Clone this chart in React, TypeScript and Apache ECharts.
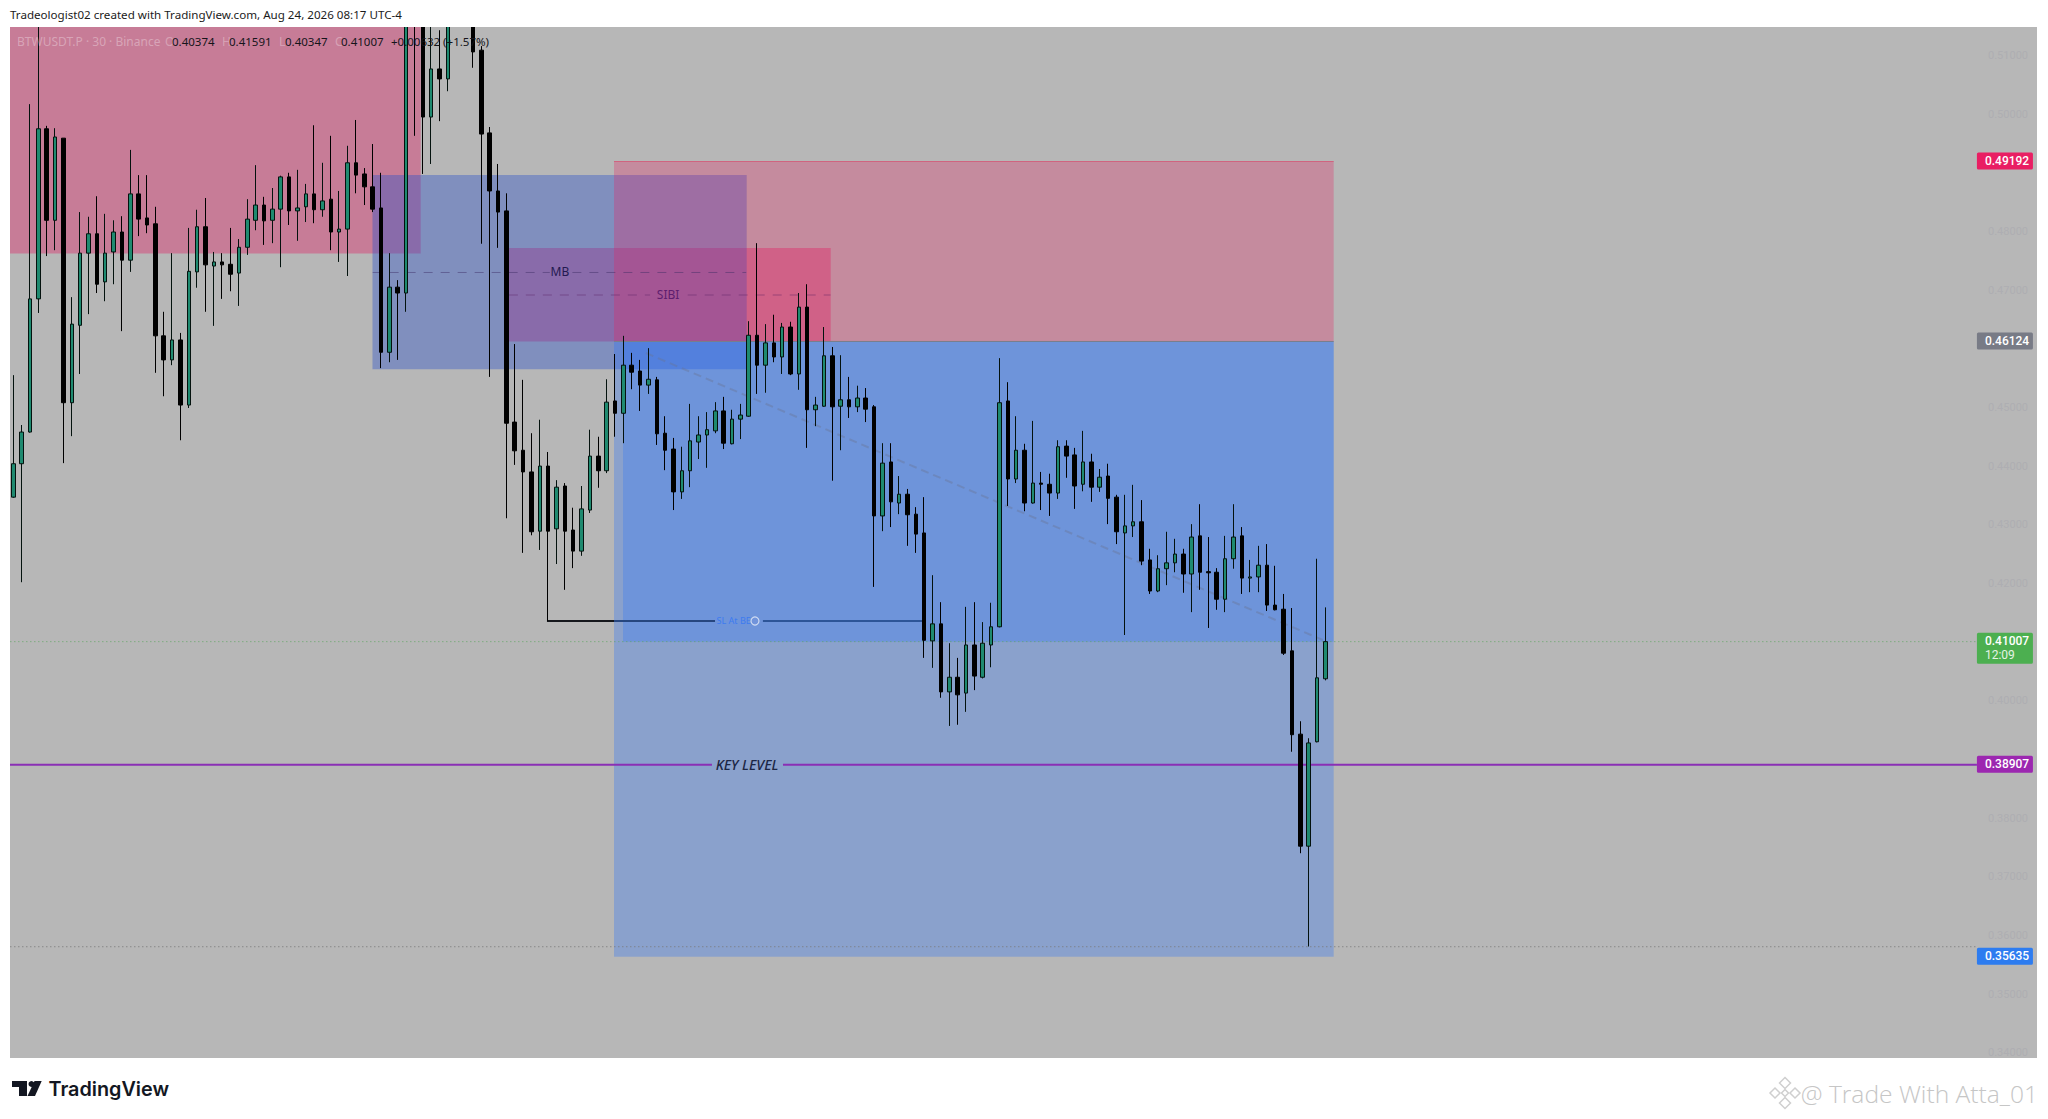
import React, { useEffect, useRef } from "react";
import * as echarts from "echarts";

const opens = [
  0.4347,0.4404,0.4458,0.4685,0.4975,0.4819,0.4959,0.4508,0.4640,0.4763,
  0.4796,0.4714,0.4765,0.4799,0.4751,0.4864,0.4823,0.4813,0.4622,0.4581,
  0.4615,0.4504,0.4731,0.4808,0.4741,0.4748,0.4744,0.4729,0.4773,0.4819,
  0.4845,0.4819,0.4838,0.4893,0.4835,0.4842,0.4864,0.4837,0.4855,0.4799,
  0.4804,0.4917,0.4898,0.4876,0.4840,0.4594,0.4705,0.4695,0.5229,0.5169,
  0.4995,0.5077,0.5060,0.5169,0.5260,0.5177,0.5109,0.4968,0.4869,0.4835,
  0.4475,0.4427,0.4390,0.4289,0.4400,0.4293,0.4366,0.4291,0.4255,0.4325,
  0.4417,0.4392,0.4511,0.4490,0.4572,0.4562,0.4538,0.4547,0.4456,0.4429,
  0.4356,0.4392,0.4441,0.4453,0.4460,0.4494,0.4438,0.4480,0.4485,0.4623,
  0.4572,0.4610,0.4586,0.4637,0.4557,0.4671,0.4496,0.4502,0.4588,0.4502,
  0.4513,0.4501,0.4516,0.4501,0.4315,0.4407,0.4337,0.4352,0.4318,0.4286,
  0.4102,0.4131,0.4015,0.4040,0.4013,0.4095,0.4040,0.4095,0.4126,0.4511,
  0.4378,0.4427,0.4337,0.4371,0.4369,0.4354,0.4434,0.4419,0.4369,0.4407,
  0.4364,0.4383,0.4347,0.4286,0.4298,0.4305,0.4240,0.4187,0.4225,0.4235,
  0.4250,0.4216,0.4281,0.4220,0.4219,0.4173,0.4242,0.4281,0.4209,0.4211,
  0.4231,0.4163,0.4156,0.4085,0.3943,0.3752,0.3930,0.40374,
];
const closes = [
  0.4404,0.4458,0.4685,0.4975,0.4819,0.4961,0.4508,0.4642,0.4763,0.4796,
  0.4710,0.4763,0.4799,0.4751,0.4864,0.4821,0.4811,0.4622,0.4581,0.4615,
  0.4504,0.4732,0.4808,0.4743,0.4748,0.4743,0.4727,0.4773,0.4821,0.4845,
  0.4818,0.4838,0.4893,0.4835,0.4840,0.4864,0.4837,0.4852,0.4799,0.4804,
  0.4917,0.4896,0.4876,0.4838,0.4594,0.4705,0.4695,0.5186,0.5195,0.4995,
  0.5077,0.5060,0.5169,0.5260,0.5220,0.5106,0.4966,0.4869,0.4833,0.4473,
  0.4426,0.4390,0.4288,0.4400,0.4289,0.4364,0.4289,0.4255,0.4327,0.4417,
  0.4392,0.4509,0.4490,0.4572,0.4560,0.4538,0.4548,0.4455,0.4427,0.4356,
  0.4392,0.4443,0.4453,0.4462,0.4494,0.4439,0.4480,0.4487,0.4623,0.4572,
  0.4610,0.4586,0.4637,0.4557,0.4671,0.4496,0.4504,0.4588,0.4501,0.4513,
  0.4501,0.4516,0.4497,0.4315,0.4405,0.4339,0.4352,0.4317,0.4284,0.4103,
  0.4131,0.4015,0.4040,0.4010,0.4095,0.4042,0.4098,0.4126,0.4508,0.4378,
  0.4427,0.4337,0.4371,0.4369,0.4354,0.4433,0.4417,0.4366,0.4407,0.4364,
  0.4381,0.4345,0.4288,0.4298,0.4305,0.4238,0.4187,0.4225,0.4235,0.4250,
  0.4216,0.4279,0.4219,0.4218,0.4173,0.4242,0.4279,0.4209,0.4211,0.4231,
  0.4163,0.4155,0.4081,0.3942,0.3752,0.3928,0.4039,0.41007,
];
const lows = [
  0.4346,0.4202,0.4457,0.4661,0.4758,0.4768,0.4405,0.4451,0.4557,0.4659,
  0.4695,0.4681,0.4710,0.4630,0.4731,0.4792,0.4797,0.4559,0.4519,0.4572,
  0.4444,0.4499,0.4704,0.4663,0.4639,0.4685,0.4698,0.4673,0.4760,0.4802,
  0.4777,0.4780,0.4739,0.4811,0.4784,0.4816,0.4814,0.4825,0.4768,0.4748,
  0.4724,0.4865,0.4845,0.4833,0.4567,0.4577,0.4581,0.4663,0.4963,0.4898,
  0.4915,0.4988,0.5039,0.5165,0.5190,0.5079,0.4779,0.4552,0.4772,0.4311,
  0.4402,0.4252,0.4282,0.4257,0.4136,0.4233,0.4189,0.4226,0.4247,0.4320,
  0.4363,0.4388,0.4450,0.4439,0.4531,0.4494,0.4523,0.4436,0.4393,0.4325,
  0.4344,0.4364,0.4412,0.4397,0.4456,0.4429,0.4437,0.4446,0.4484,0.4523,
  0.4525,0.4577,0.4557,0.4555,0.4530,0.4431,0.4468,0.4501,0.4375,0.4427,
  0.4482,0.4492,0.4475,0.4194,0.4289,0.4296,0.4318,0.4264,0.4252,0.4073,
  0.4056,0.4005,0.3957,0.3959,0.3981,0.4018,0.4038,0.4057,0.4125,0.4332,
  0.4371,0.4323,0.4336,0.4325,0.4315,0.4344,0.4380,0.4327,0.4357,0.4339,
  0.4356,0.4301,0.4267,0.4112,0.4279,0.4231,0.4182,0.4185,0.4197,0.4219,
  0.4184,0.4151,0.4189,0.4124,0.4155,0.4151,0.4225,0.4182,0.4185,0.4185,
  0.4153,0.4154,0.4078,0.3913,0.3740,0.3581,0.3929,0.40347,
];
const highs = [
  0.4555,0.4470,0.5017,0.5160,0.4980,0.4976,0.4959,0.4688,0.4833,0.4825,
  0.4860,0.4830,0.4819,0.4826,0.4939,0.4896,0.4896,0.4842,0.4663,0.4763,
  0.4627,0.4806,0.4837,0.4857,0.4765,0.4763,0.4806,0.4787,0.4855,0.4913,
  0.4859,0.4874,0.4895,0.4900,0.4905,0.4881,0.4981,0.4917,0.4963,0.4869,
  0.4946,0.4990,0.4908,0.4949,0.4900,0.4763,0.4717,0.5212,0.5246,0.5186,
  0.5177,0.5143,0.5186,0.5300,0.5290,0.5195,0.5116,0.4978,0.4915,0.4865,
  0.4608,0.4547,0.4456,0.4479,0.4424,0.4376,0.4371,0.4329,0.4366,0.4462,
  0.4450,0.4548,0.4591,0.4622,0.4593,0.4581,0.4601,0.4552,0.4485,0.4448,
  0.4433,0.4506,0.4485,0.4492,0.4509,0.4518,0.4496,0.4506,0.4647,0.4780,
  0.4642,0.4658,0.4644,0.4646,0.4695,0.4710,0.4518,0.4637,0.4603,0.4589,
  0.4552,0.4537,0.4533,0.4504,0.4439,0.4439,0.4383,0.4361,0.4330,0.4347,
  0.4214,0.4168,0.4098,0.4073,0.4160,0.4168,0.4134,0.4167,0.4584,0.4543,
  0.4485,0.4438,0.4477,0.4390,0.4387,0.4444,0.4444,0.4431,0.4460,0.4421,
  0.4395,0.4404,0.4351,0.4351,0.4368,0.4342,0.4259,0.4248,0.4288,0.4276,
  0.4259,0.4301,0.4335,0.4279,0.4226,0.4281,0.4335,0.4296,0.4240,0.4264,
  0.4267,0.4230,0.4182,0.4158,0.3965,0.3936,0.4242,0.41591,
];

// Ticks that fall behind a price tag are left out
const priceTicks = [0.34,0.35,0.36,0.37,0.38,0.4,0.42,0.43,0.44,0.45,0.47,0.48,0.5,0.51];

// Zones: [first bar, last bar, top price, bottom price, style index], in paint order
const AXIS_TOP = 0.51485;
const AXIS_BOTTOM = 0.33909;
const FIRST_BAR = -0.395;
const LAST_BAR = 242.16;
const supplyZone = [FIRST_BAR, 48.75, AXIS_TOP, 0.47624, 0];
const sibiZone = [59.28, 97.81, 0.47717, 0.46124, 1];
const mbZone = [42.98, 87.76, 0.48962, 0.4565, 2];
const stopZone = [71.88, 158.0, 0.49192, 0.46124, 3];
const targetZone = [71.88, 158.0, 0.46124, 0.35635, 4];
const profitZone = [72.96, 158.0, 0.46124, 0.41007, 5];
const zones = [supplyZone, sibiZone, mbZone, stopZone, targetZone, profitZone];
const zoneFills = [
  "rgba(226,30,99,0.38)",
  "rgba(226,30,99,0.38)",
  "rgba(44,82,199,0.4)",
  "rgba(232,30,95,0.29)",
  "rgba(37,114,254,0.3)",
  "rgba(37,114,254,0.27)",
];

const keyLevel = 0.38907;
const entryLevel = 0.46124;
const stopLevel = 0.49192;
const targetLevel = 0.35635;
const lastPrice = 0.41007;
const lowMarker = 0.35806;
const slLevel = 0.41359;
const mbLevel = 0.473;
const sibiLevel = 0.46916;

const segments: { pts: number[][]; color: string; width: number; type: any }[] = [
  { pts: [[FIRST_BAR, keyLevel], [83.6, keyLevel]], color: "#8A2FB5", width: 2, type: "solid" },
  { pts: [[92.1, keyLevel], [234.97, keyLevel]], color: "#8A2FB5", width: 2, type: "solid" },
  { pts: [[FIRST_BAR, lastPrice], [234.97, lastPrice]], color: "rgba(90,165,95,0.6)", width: 1, type: [1.5, 2.5] },
  { pts: [[FIRST_BAR, lowMarker], [234.97, lowMarker]], color: "rgba(120,120,120,0.75)", width: 1, type: [1.5, 2.5] },
  { pts: [[71.88, entryLevel], [158.0, entryLevel]], color: "#7A7E8C", width: 1, type: "solid" },
  { pts: [[71.88, stopLevel], [158.0, stopLevel]], color: "#D0647F", width: 1, type: "solid" },
  { pts: [[43, mbLevel], [64.2, mbLevel]], color: "rgba(60,45,100,0.45)", width: 1, type: [9, 8] },
  { pts: [[66.9, mbLevel], [87.7, mbLevel]], color: "rgba(60,45,100,0.45)", width: 1, type: [9, 8] },
  { pts: [[59.3, sibiLevel], [76.2, sibiLevel]], color: "rgba(90,30,100,0.45)", width: 1, type: [9, 8] },
  { pts: [[80.7, sibiLevel], [97.8, sibiLevel]], color: "rgba(90,30,100,0.45)", width: 1, type: [9, 8] },
  { pts: [[75.7, 0.45927], [156.7, 0.41035]], color: "rgba(105,115,145,0.38)", width: 2, type: [8, 5] },
  { pts: [[63.86, slLevel], [71.88, slLevel]], color: "#15171c", width: 2, type: "solid" },
  { pts: [[71.88, slLevel], [83.97, slLevel]], color: "#26467f", width: 2, type: "solid" },
  { pts: [[89.7, slLevel], [109.2, slLevel]], color: "#2D5598", width: 2, type: "solid" },
];

// Chart annotations: [bar, price, text, style index]
const annotations: [number, number, string, number][] = [
  [65.4, mbLevel + 0.0002, "MB", 0],
  [78.35, sibiLevel + 0.0001, "SIBI", 1],
  [87.8, keyLevel, "KEY LEVEL", 2],
  [86.2, slLevel, "SL At BE", 3],
];
const annotationStyles = [
  { font: "12px 'Noto Sans'", fill: "#231A50" },
  { font: "12px 'Noto Sans'", fill: "#5E1E6E" },
  { font: "italic 500 14px 'Noto Sans'", fill: "#1C2644" },
  { font: "9px 'Noto Sans'", fill: "#3D7BF0" },
];

// Price tags: [price, text, second line, colour]
const priceTags: [number, string, string, string][] = [
  [stopLevel, "0.49192", "", "#E91E63"],
  [entryLevel, "0.46124", "", "#787B86"],
  [lastPrice, "0.41007", "12:09", "#4CAF50"],
  [keyLevel, "0.38907", "", "#9C27B0"],
  [targetLevel, "0.35635", "", "#2D7CF0"],
];

const headerText = "Tradeologist02 created with TradingView.com, Aug 24, 2026 08:17 UTC-4";
const symbolText = "BTWUSDT.P · 30 · Binance";
const ohlcLabels = ["O", "H", "L", "C"];
const ohlcValues = ["0.40374", "0.41591", "0.40347", "0.41007"];
const changeText = "+0.00632 (+1.57%)";
const watermarkText = "@ Trade With Atta_01";
const brandText = "TradingView";

function buildOption() {
  const candles = opens.map((o, i) => [i, o, closes[i], lows[i], highs[i]]);
  const ohlcX = [165, 222, 279, 335];
  const ohlcValueX = [172, 229, 285, 341];
  const txt = (x: number, y: number, text: string, font: string, fill: string, align = "left") => ({
    type: "text",
    x,
    y,
    z: 50,
    silent: true,
    style: { text, font, fill, textAlign: align, textVerticalAlign: "middle" },
  });
  const diamond = (cx: number, cy: number, r: number) => ({
    type: "polygon",
    z: 50,
    silent: true,
    shape: { points: [[cx, cy - r], [cx + r, cy], [cx, cy + r], [cx - r, cy]] },
    style: { fill: "none", stroke: "#CFCFCF", lineWidth: 1.5 },
  });

  return {
    animation: false,
    backgroundColor: "#FFFFFF",
    grid: {
      left: 10,
      top: 27,
      width: 2027,
      height: 1031,
      show: true,
      backgroundColor: "#B7B7B7",
      borderWidth: 0,
    },
    xAxis: { type: "value", min: FIRST_BAR, max: LAST_BAR, show: false },
    yAxis: {
      type: "value",
      position: "right",
      min: AXIS_BOTTOM,
      max: AXIS_TOP,
      axisLine: { show: false },
      axisTick: { show: false },
      splitLine: { show: false },
      axisLabel: {
        inside: true,
        margin: 9,
        customValues: priceTicks,
        formatter: (v: number) => v.toFixed(5),
        color: "#AEAEB2",
        fontSize: 11,
        fontFamily: "Roboto",
      },
    },
    series: [
      {
        type: "custom",
        z: 1,
        silent: true,
        clip: true,
        data: zones,
        encode: { x: [0, 1], y: [2, 3] },
        renderItem: (_: any, api: any) => {
          const a = api.coord([api.value(0), api.value(2)]);
          const b = api.coord([api.value(1), api.value(3)]);
          return {
            type: "rect",
            shape: { x: a[0], y: a[1], width: b[0] - a[0], height: b[1] - a[1] },
            style: { fill: zoneFills[api.value(4)] },
          };
        },
      },
      ...segments.map((s) => ({
        type: "line",
        z: 2,
        silent: true,
        showSymbol: false,
        data: s.pts,
        lineStyle: { color: s.color, width: s.width, type: s.type },
      })),
      {
        type: "scatter",
        z: 2,
        silent: true,
        symbol: "circle",
        symbolSize: 8,
        data: [[88.75, slLevel]],
        itemStyle: { color: "rgba(120,150,220,0.4)", borderColor: "#E6ECF8", borderWidth: 1.2 },
      },
      {
        type: "candlestick",
        z: 3,
        silent: true,
        barWidth: 4,
        data: candles,
        itemStyle: {
          color: "#1F8A70",
          color0: "#000000",
          borderColor: "#04120E",
          borderColor0: "#000000",
          borderWidth: 1,
        },
      },
      {
        type: "custom",
        z: 4,
        silent: true,
        clip: false,
        data: annotations.map((a) => [a[0], a[1], a[3]]),
        encode: { x: 0, y: 1 },
        renderItem: (p: any, api: any) => {
          const c = api.coord([api.value(0), api.value(1)]);
          const st = annotationStyles[api.value(2)];
          return {
            type: "text",
            x: c[0],
            y: c[1],
            style: {
              text: annotations[p.dataIndex][2],
              font: st.font,
              fill: st.fill,
              textAlign: "center",
              textVerticalAlign: "middle",
            },
          };
        },
      },
      {
        type: "custom",
        z: 5,
        silent: true,
        clip: false,
        data: priceTags.map((t) => [234.97, t[0]]),
        encode: { x: 0, y: 1 },
        renderItem: (p: any, api: any) => {
          const c = api.coord([api.value(0), api.value(1)]);
          const t = priceTags[p.dataIndex];
          const two = t[2] !== "";
          const children: any[] = [
            {
              type: "rect",
              shape: { x: c[0], y: c[1] - 9, width: 56, height: two ? 31 : 17, r: 1.5 },
              style: { fill: t[3] },
            },
            {
              type: "text",
              x: c[0] + 8,
              y: c[1] - 0.5,
              style: { text: t[1], font: "500 12px Roboto", fill: "#FFFFFF", textVerticalAlign: "middle" },
            },
          ];
          if (two) {
            children.push({
              type: "text",
              x: c[0] + 8,
              y: c[1] + 13,
              style: { text: t[2], font: "12px Roboto", fill: "#E4F3E4", textVerticalAlign: "middle" },
            });
          }
          return { type: "group", children };
        },
      },
    ],
    graphic: [
      // White header band above the plot: off-scale candles end at the plot's top edge
      { type: "rect", z: 40, silent: true, shape: { x: 0, y: 0, width: 2048, height: 27 }, style: { fill: "#FFFFFF" } },
      txt(10, 14.5, headerText, "11.6px 'Noto Sans'", "#1B1B1B"),
      txt(17, 41, symbolText, "12px 'Noto Sans'", "rgba(255,255,255,0.33)"),
      ...ohlcLabels.map((l, i) => txt(ohlcX[i], 41, l, "12px 'Noto Sans'", "rgba(255,255,255,0.3)")),
      ...ohlcValues.map((v, i) => txt(ohlcValueX[i], 41, v, "11.5px 'Noto Sans'", "#15151A")),
      txt(391, 41, changeText, "11.5px 'Noto Sans'", "#15151A"),
      // TradingView mark
      { type: "polygon", z: 50, silent: true,
        shape: { points: [[12, 1081], [27, 1081], [27, 1096], [19, 1096], [19, 1087], [12, 1087]] },
        style: { fill: "#131722" } },
      { type: "circle", z: 50, silent: true, shape: { cx: 31.5, cy: 1084, r: 3 }, style: { fill: "#131722" } },
      { type: "polygon", z: 50, silent: true,
        shape: { points: [[34.5, 1081], [41.7, 1081], [35, 1096], [27.5, 1096]] },
        style: { fill: "#131722" } },
      txt(48.5, 1089, brandText, "600 19.8px Inter", "#131722"),
      // Watermark
      diamond(1785, 1083, 5.5),
      diamond(1785, 1103, 5.5),
      diamond(1775, 1093, 5),
      diamond(1795, 1093, 5),
      diamond(1785, 1093, 3.5),
      txt(2038, 1093, watermarkText, "300 24.6px 'Open Sans'", "#C6C6C6", "right"),
    ],
  };
}

export default function App() {
  const ref = useRef<HTMLDivElement>(null);
  useEffect(() => {
    document.body.style.margin = "0";
    const chart = echarts.init(ref.current!, null, { renderer: "svg", width: 2048, height: 1119 });
    chart.setOption(buildOption() as any);
    return () => chart.dispose();
  }, []);
  return <div ref={ref} style={{ width: 2048, height: 1119, background: "#fff" }} />;
}
